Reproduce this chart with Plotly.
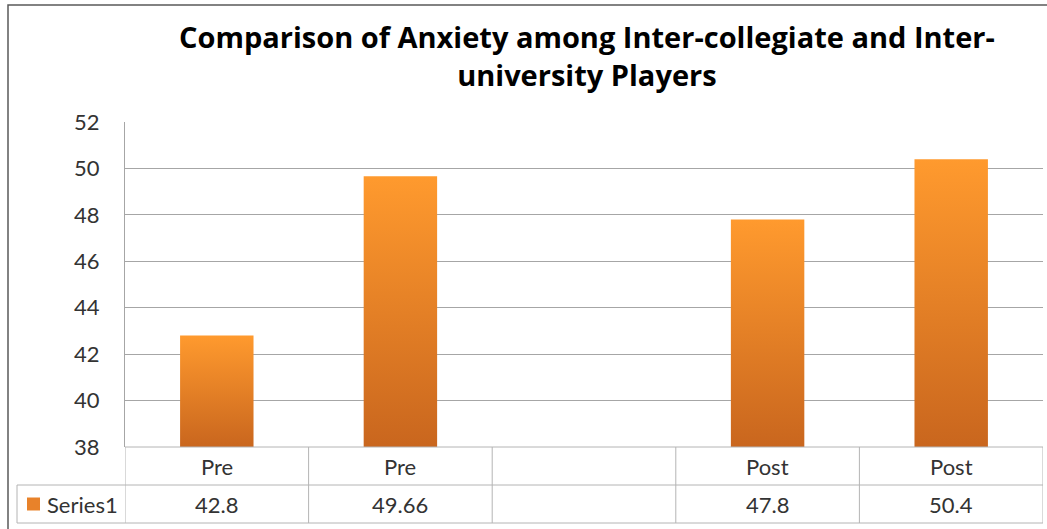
import plotly.graph_objects as go

# ---- data ----
categories = ["Pre", "Pre", "", "Post", "Post"]
values = [42.8, 49.66, None, 47.8, 50.4]
value_labels = ["42.8", "49.66", "", "47.8", "50.4"]
series_name = "Series1"
y_ticks = [38, 40, 42, 44, 46, 48, 50, 52]
title_lines = ["Comparison of Anxiety among Inter-collegiate and Inter-", "university Players"]

# ---- style ----
W, H = 1047, 529
ML, MR, MT, MB = 125, 4, 122, 82
PLOT_H = H - MT - MB
PLOT_W = W - ML - MR
Y0, Y1 = 38, 52
BAR_HALF = 0.2
FONT = "Lato"
TXT = "#333333"
GRID = "#A6A6A6"
TLINE = "#B4B4B4"
grad = [[0, "#C9661E"], [1, "#FF9A2E"]]

fig = go.Figure()

for i, v in enumerate(values):
    if v is None:
        continue
    xs = [i - BAR_HALF, i + BAR_HALF, i + BAR_HALF, i - BAR_HALF, i - BAR_HALF]
    ys = [Y0, Y0, v, v, Y0]
    fig.add_trace(go.Scatter(
        x=xs, y=ys, mode="lines", fill="toself",
        line=dict(width=0, color="rgba(0,0,0,0)"),
        fillgradient=dict(type="vertical", colorscale=grad),
        hoverinfo="skip", showlegend=False,
    ))

fig.update_xaxes(range=[-0.5, len(categories) - 0.5], showticklabels=False,
                 showgrid=False, zeroline=False, showline=False, fixedrange=True)
fig.update_yaxes(range=[Y0, Y1], tickvals=y_ticks, showgrid=True, gridcolor=GRID,
                 gridwidth=1, zeroline=False, showline=True, linecolor=GRID,
                 ticks="", ticklabelstandoff=20,
                 tickfont=dict(family=FONT, size=22, color=TXT))

row_h = 38 / PLOT_H
shapes = []
line = dict(color=TLINE, width=1)
left_px = (17 - ML) / PLOT_W
# horizontal lines of table
shapes.append(dict(type="line", xref="paper", yref="paper", x0=0, x1=1, y0=0, y1=0, line=line))
shapes.append(dict(type="line", xref="paper", yref="paper", x0=left_px, x1=1, y0=-row_h, y1=-row_h, line=line))
shapes.append(dict(type="line", xref="paper", yref="paper", x0=left_px, x1=1, y0=-2 * row_h, y1=-2 * row_h, line=line))
# vertical lines
for k in range(len(categories) + 1):
    shapes.append(dict(type="line", xref="x", yref="paper", x0=k - 0.5, x1=k - 0.5,
                       y0=0, y1=-2 * row_h, line=line))
shapes.append(dict(type="line", xref="paper", yref="paper", x0=left_px, x1=left_px,
                   y0=-row_h, y1=-2 * row_h, line=line))
# outer frame
shapes.append(dict(type="rect", xref="paper", yref="paper",
                   x0=(8 - ML) / PLOT_W, x1=1.05, y0=-0.4, y1=(H - MB - 5) / PLOT_H,
                   line=dict(color="#595959", width=1.5), fillcolor="rgba(0,0,0,0)"))
# legend key square
shapes.append(dict(type="rect", xref="paper", yref="paper",
                   x0=(27 - ML) / PLOT_W, x1=(40 - ML) / PLOT_W,
                   y0=-1.5 * row_h - 6.5 / PLOT_H, y1=-1.5 * row_h + 6.5 / PLOT_H,
                   line=dict(width=0), fillcolor="#E8822A"))

annotations = []
for i, (c, vl) in enumerate(zip(categories, value_labels)):
    annotations.append(dict(x=i, y=-0.5 * row_h, xref="x", yref="paper", text=c,
                            showarrow=False, font=dict(family=FONT, size=22, color=TXT),
                            xanchor="center", yanchor="middle"))
    annotations.append(dict(x=i, y=-1.5 * row_h, xref="x", yref="paper", text=vl,
                            showarrow=False, font=dict(family=FONT, size=22, color=TXT),
                            xanchor="center", yanchor="middle"))
annotations.append(dict(x=(45 - ML) / PLOT_W, y=-1.5 * row_h, xref="paper", yref="paper",
                        text=series_name, showarrow=False,
                        font=dict(family=FONT, size=22, color=TXT),
                        xanchor="left", yanchor="middle"))
annotations.append(dict(x=(587 - ML) / PLOT_W, y=(H - MB - 55) / PLOT_H, xref="paper", yref="paper",
                        text="<b>" + "<br>".join(title_lines) + "</b>", showarrow=False,
                        font=dict(family="Open Sans", size=29, color="#000000"),
                        xanchor="center", yanchor="middle", align="center"))

fig.update_layout(width=W, height=H, margin=dict(l=ML, r=MR, t=MT, b=MB),
                  paper_bgcolor="white", plot_bgcolor="white",
                  shapes=shapes, annotations=annotations, showlegend=False)

fig.write_html("out.html")
